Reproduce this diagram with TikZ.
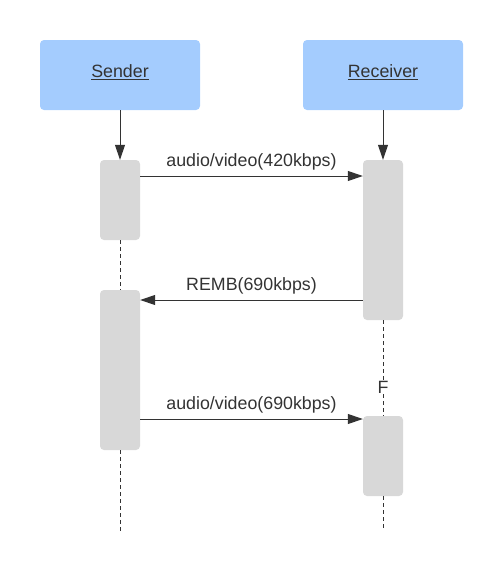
\documentclass[tikz,border=0pt]{standalone}
\usepackage{fontspec}
\setmainfont{Liberation Sans}
\usetikzlibrary{arrows.meta}
\definecolor{headblue}{HTML}{A4CCFE}
\definecolor{actgray}{HTML}{D8D8D8}
\definecolor{inkgray}{HTML}{333333}
\tikzstyle{msg} = [line width=1pt,draw=inkgray,-{Triangle[length=15pt,width=10pt]}]

\begin{document}
\begin{tikzpicture}
        [
            x=1pt,y=-1pt,
            head/.style={rectangle,fill=headblue,rounded corners=4pt,minimum width=160pt,minimum height=70pt,text=inkgray,text depth=7pt,font=\fontsize{17.8}{20}\selectfont},
            act/.style={rectangle,fill=actgray,rounded corners=4pt,minimum width=40pt,inner sep=0pt},
            life/.style={draw=inkgray,line width=0.9pt,dash pattern=on 4pt off 3pt},
            lbl/.style={text=inkgray,font=\fontsize{17.8}{20}\selectfont},
        ]
    \useasboundingbox (0,0) rectangle (503,571);

    \node[head] (sender) at (120,75){\underline{Sender}};
    \node[head] (receiver) at (383,75){\underline{Receiver}};

    \node[act,minimum height=80pt ] (s1) at (120,200){};
    \node[act,minimum height=160pt] (s2) at (120,370){};
    \node[act,minimum height=160pt] (r1) at (383,240){};
    \node[act,minimum height=80pt ] (r2) at (383,456){};
    \node[lbl,inner sep=1pt] (f) at (383,387){F};
    \coordinate (send) at (120,531);
    \coordinate (rend) at (383,531);

    % lifelines
    \draw[life] (s1.south) -- (s2.north);
    \draw[life] (s2.south) -- (send);
    \draw[life] (r1.south) -- (f.north);
    \draw[life] (f.south) -- (r2.north);
    \draw[life] (r2.south) -- (rend);

    \draw[msg] (sender.south) -- (s1.north);
    \draw[msg] (receiver.south) -- (r1.north);

    % messages
    \draw[msg] (s1.east |- 0,176) -- node[lbl,above=2pt]{audio/video(420kbps)} (r1.west |- 0,176);
    \draw[msg] (r1.west |- 0,300) -- node[lbl,above=2pt]{REMB(690kbps)} (s2.east |- 0,300);
    \draw[msg] (s2.east |- 0,419) -- node[lbl,above=2pt]{audio/video(690kbps)} (r2.west |- 0,419);
\end{tikzpicture}
\end{document}
